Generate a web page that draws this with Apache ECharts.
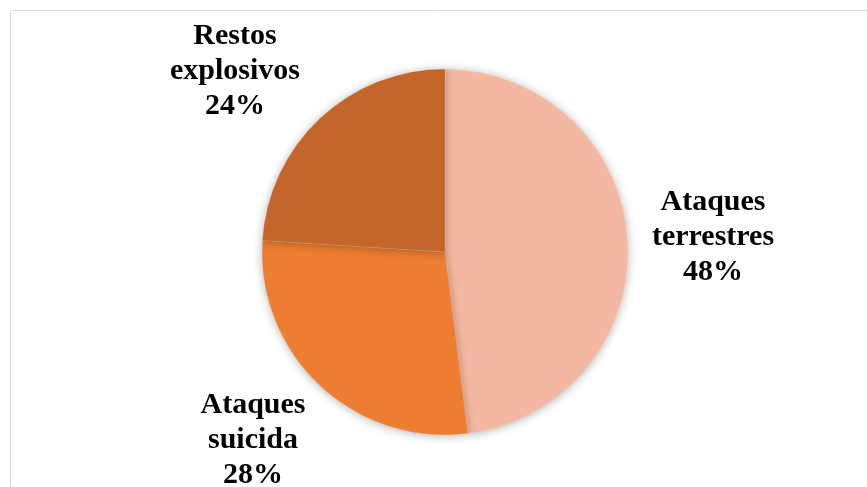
<!DOCTYPE html>
<html>
<head>
<meta charset="utf-8">
<script src="https://cdn.jsdelivr.net/npm/echarts@6/dist/echarts.min.js"></script>
<style>
html, body { margin: 0; padding: 0; background: #fff; }
#chart { width: 867px; height: 487px; }
</style>
</head>
<body>
<div id="chart"></div>
<script>
var categories = ['Ataques\nterrestres', 'Ataques\nsuicida', 'Restos\nexplosivos'];
var values = [48, 28, 24];
var colors = ['#F4B8A2', '#ED7D31', '#C4652A'];
// label centres (text only)
var labelPos = [[713, 237], [253, 440], [235, 71]];

var myChart = echarts.init(document.getElementById('chart'));
var data = [];
for (var i = 0; i < values.length; i++) {
	data.push({ name: categories[i], value: values[i], itemStyle: { color: colors[i] } });
}
var option = {
	animation: false,
	graphic: [{
		type: 'rect',
		shape: { x: 10.5, y: 10.5, width: 900, height: 500 },
		style: { fill: 'none', stroke: '#d9d9d9', lineWidth: 1 },
		silent: true
	}],
	series: [{
		type: 'pie',
		center: [445, 252],
		radius: [0, 183],
		startAngle: 90,
		clockwise: true,
		itemStyle: {
			borderColor: 'rgba(255,255,255,0.25)',
			borderWidth: 0.5,
			shadowBlur: 10,
			shadowColor: 'rgba(0,0,0,0.3)',
			shadowOffsetY: 1
		},
		label: {
			show: true,
			position: 'outside',
			formatter: '{b}\n{d}%',
			fontFamily: 'Liberation Serif',
			fontWeight: 'bold',
			fontSize: 30,
			lineHeight: 35,
			color: '#000',
			align: 'center'
		},
		labelLine: { show: false },
		labelLayout: function (params) {
			var p = labelPos[params.dataIndex];
			return { x: p[0], y: p[1], align: 'center', verticalAlign: 'middle' };
		},
		data: data
	}]
};
myChart.setOption(option);
</script>
</body>
</html>
